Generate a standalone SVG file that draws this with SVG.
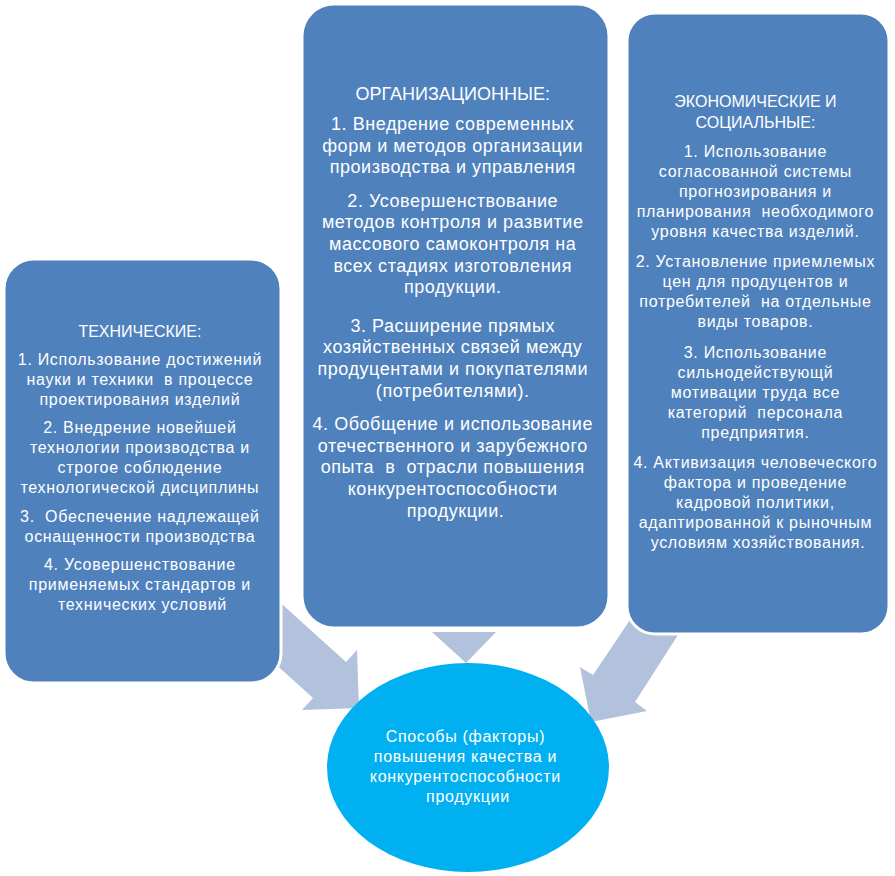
<svg xmlns="http://www.w3.org/2000/svg" width="895" height="876" viewBox="0 0 895 876">
<style>
.box{fill:#4F81BD;stroke:#FFFFFF;stroke-width:3}
.arrow{fill:#B3C2DC;stroke:none}
.ell{fill:#00B0F0;stroke:none}
text{font-family:"Liberation Sans",Arial,sans-serif;fill:#FFFFFF;text-anchor:middle}
.s{font-size:16px;letter-spacing:0.7px}
.m{font-size:18px;letter-spacing:0.55px}
.h{letter-spacing:0px}
</style>
<rect width="895" height="876" fill="#FFFFFF"/>
<g id="connectors">
<polygon class="arrow" points="263,587 346,662 357,650 359,708 302,710 313,698 230,623"/>
<polygon class="arrow" points="432,632 496,632 466,663"/>
<polygon class="arrow" points="638,608 593,675 580,667 591,722 647,711 635,702 692,613"/>
</g>
<g id="technical">
<rect class="box" x="4" y="259" width="277" height="424" rx="30" ry="30"/>
<text class="s">
<tspan class="h" x="142.5" y="337">ТЕХНИЧЕСКИЕ:</tspan>
<tspan x="142.5" y="365">1. Использование достижений</tspan>
<tspan x="142.5" y="385">науки и техники &#160;в процессе</tspan>
<tspan x="142.5" y="405">проектирования изделий</tspan>
<tspan x="142.5" y="433">2. Внедрение новейшей</tspan>
<tspan x="142.5" y="453">технологии производства и</tspan>
<tspan x="142.5" y="473">строгое соблюдение</tspan>
<tspan x="142.5" y="493">технологической дисциплины</tspan>
<tspan x="142.5" y="522">3. &#160;Обеспечение надлежащей</tspan>
<tspan x="142.5" y="542">оснащенности производства</tspan>
<tspan x="142.5" y="570">4. Усовершенствование</tspan>
<tspan x="142.5" y="590">применяемых стандартов и</tspan>
<tspan x="142.5" y="610">технических условий</tspan>
</text>
</g>
<g id="organizational">
<rect class="box" x="302" y="4" width="307" height="624" rx="32" ry="32"/>
<text class="m">
<tspan class="h" x="455.5" y="100">ОРГАНИЗАЦИОННЫЕ:</tspan>
<tspan x="455.5" y="130">1. Внедрение современных</tspan>
<tspan x="455.5" y="152">форм и методов организации</tspan>
<tspan x="455.5" y="173">производства и управления</tspan>
<tspan x="455.5" y="207">2. Усовершенствование</tspan>
<tspan x="455.5" y="228">методов контроля и развитие</tspan>
<tspan x="455.5" y="250">массового самоконтроля на</tspan>
<tspan x="455.5" y="272">всех стадиях изготовления</tspan>
<tspan x="455.5" y="293">продукции.</tspan>
<tspan x="455.5" y="332">3. Расширение прямых</tspan>
<tspan x="455.5" y="353">хозяйственных связей между</tspan>
<tspan x="455.5" y="375">продуцентами и покупателями</tspan>
<tspan x="455.5" y="397">(потребителями).</tspan>
<tspan x="455.5" y="430">4. Обобщение и использование</tspan>
<tspan x="455.5" y="452">отечественного и зарубежного</tspan>
<tspan x="455.5" y="473">опыта &#160;в &#160;отрасли повышения</tspan>
<tspan x="455.5" y="495">конкурентоспособности</tspan>
<tspan x="455.5" y="517">продукции.</tspan>
</text>
</g>
<g id="economic">
<rect class="box" x="627" y="13" width="262" height="621" rx="28" ry="28"/>
<text class="s">
<tspan class="h" x="758" y="107">ЭКОНОМИЧЕСКИЕ И</tspan>
<tspan class="h" x="758" y="128">СОЦИАЛЬНЫЕ:</tspan>
<tspan x="758" y="157">1. Использование</tspan>
<tspan x="758" y="177">согласованной системы</tspan>
<tspan x="758" y="197">прогнозирования и</tspan>
<tspan x="758" y="217">планирования &#160;необходимого</tspan>
<tspan x="758" y="237">уровня качества изделий.</tspan>
<tspan x="758" y="267">2. Установление приемлемых</tspan>
<tspan x="758" y="287">цен для продуцентов и</tspan>
<tspan x="758" y="307">потребителей &#160;на отдельные</tspan>
<tspan x="758" y="327">виды товаров.</tspan>
<tspan x="758" y="358">3. Использование</tspan>
<tspan x="758" y="378">сильнодействующй</tspan>
<tspan x="758" y="398">мотивации труда все</tspan>
<tspan x="758" y="418">категорий &#160;персонала</tspan>
<tspan x="758" y="438">предприятия.</tspan>
<tspan x="758" y="468">4. Активизация человеческого</tspan>
<tspan x="758" y="488">фактора и проведение</tspan>
<tspan x="758" y="508">кадровой политики,</tspan>
<tspan x="758" y="528">адаптированной к рыночным</tspan>
<tspan x="758" y="548">условиям хозяйствования.</tspan>
</text>
</g>
<g id="center">
<ellipse class="ell" cx="468" cy="767.5" rx="141" ry="104.5"/>
<text class="s">
<tspan x="468" y="742">Способы (факторы)</tspan>
<tspan x="468" y="762">повышения качества и</tspan>
<tspan x="468" y="782">конкурентоспособности</tspan>
<tspan x="468" y="802">продукции</tspan>
</text>
</g>
</svg>
